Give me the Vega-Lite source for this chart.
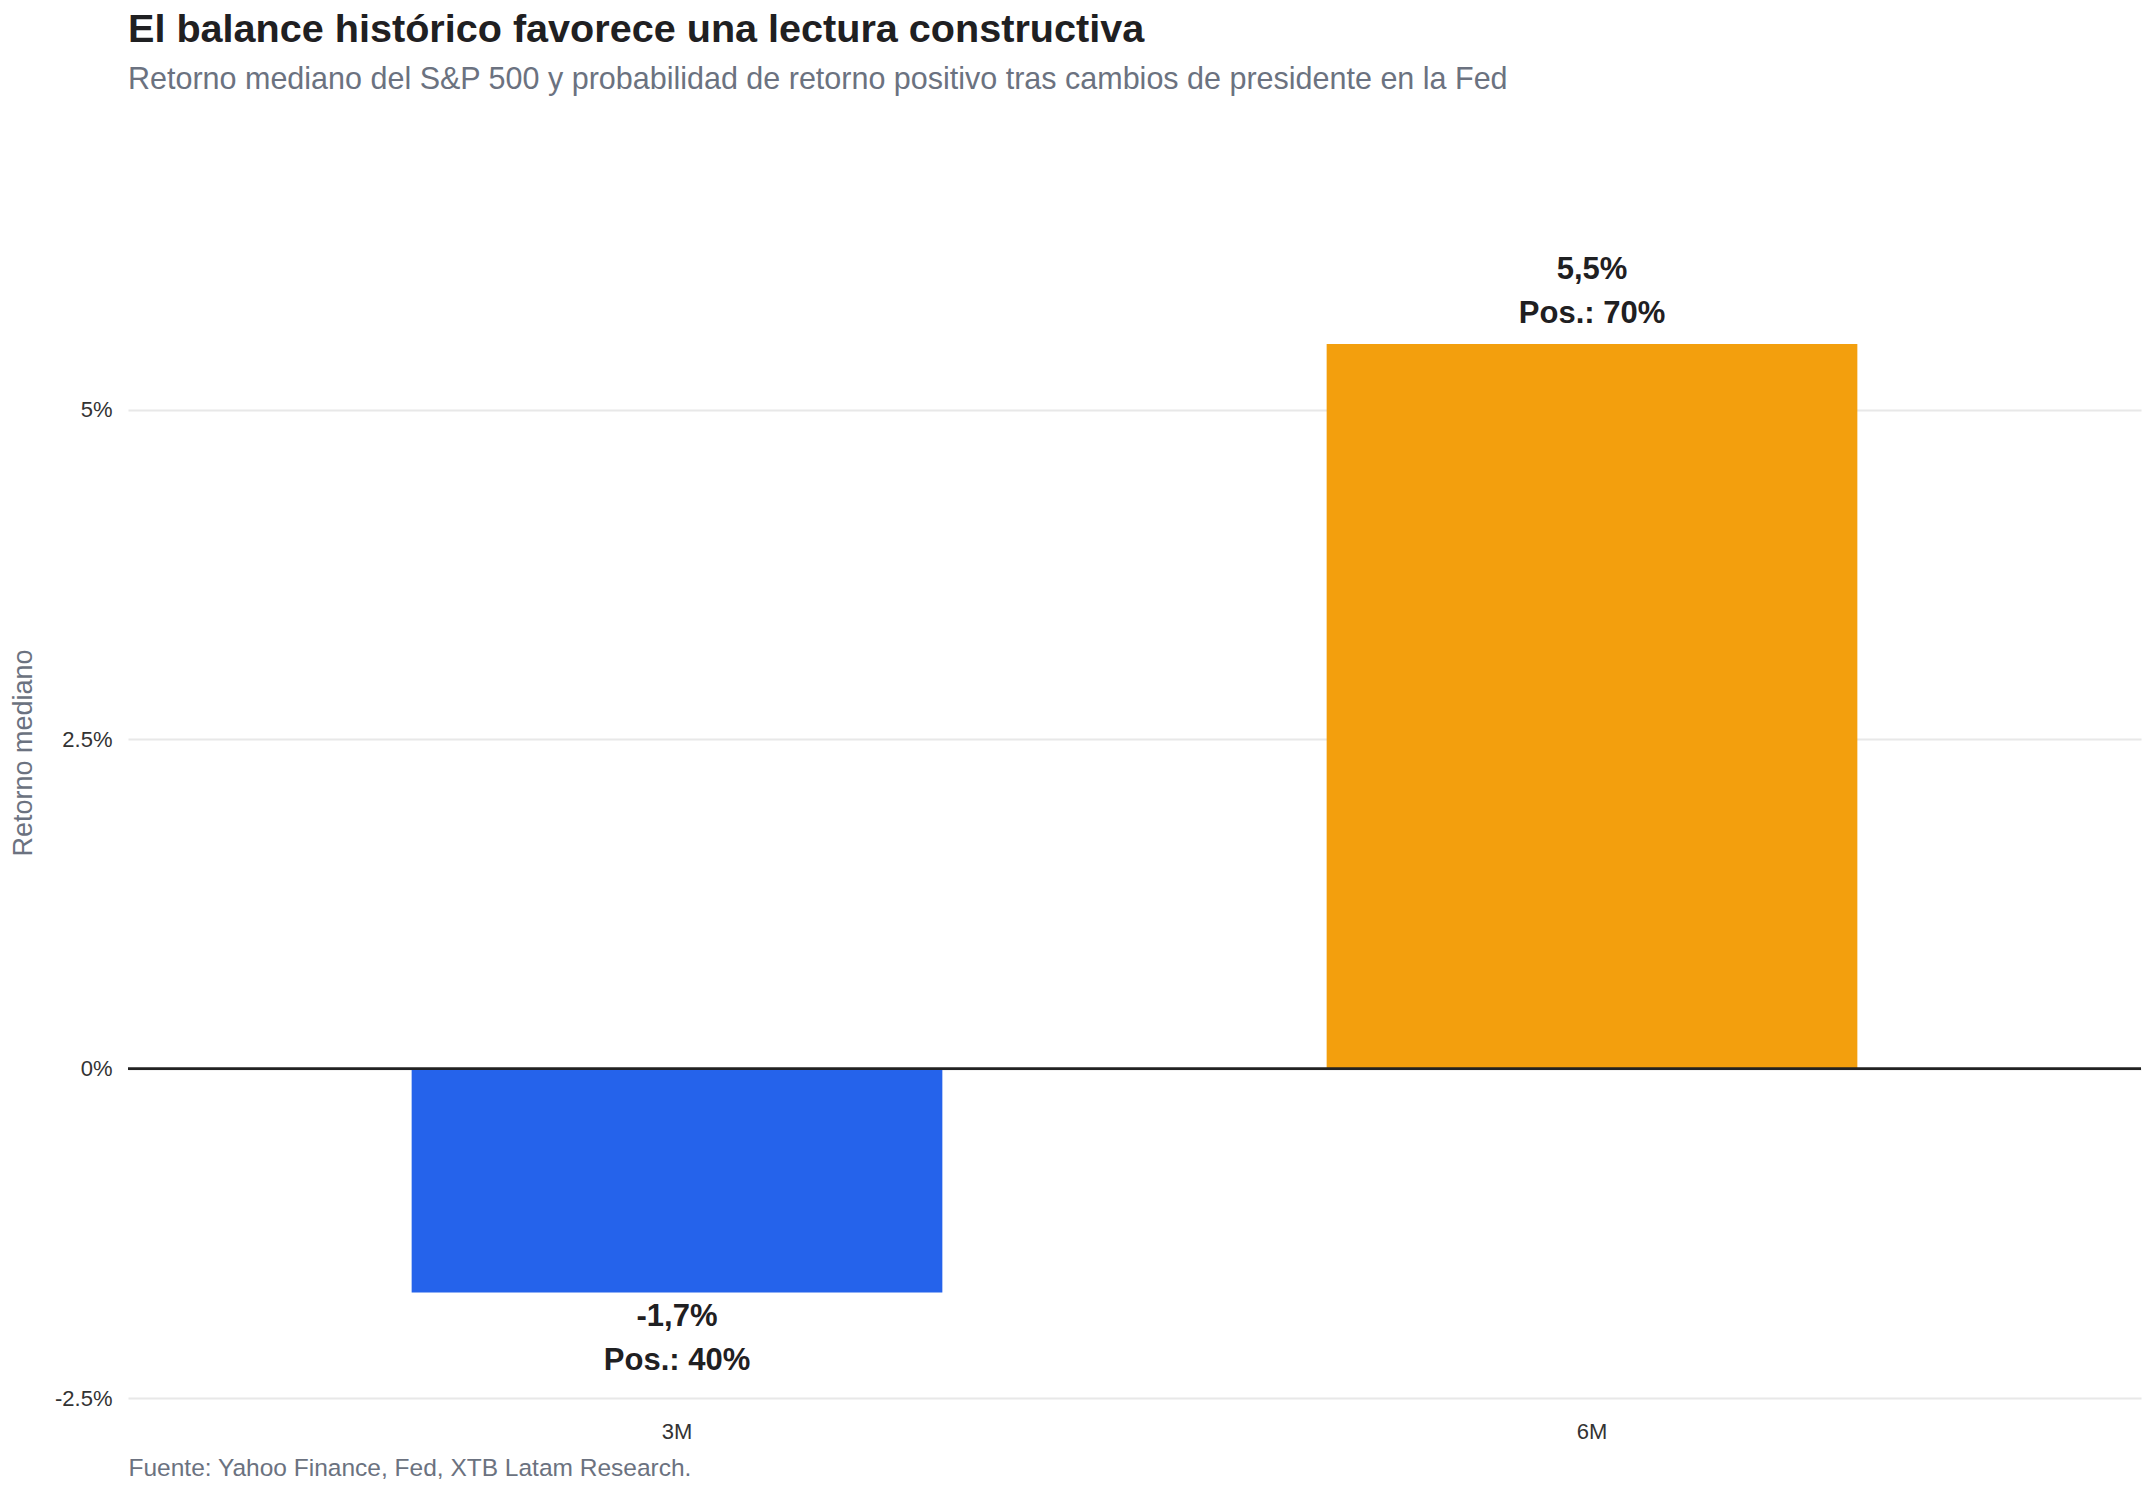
{
  "$schema": "https://vega.github.io/schema/vega-lite/v6.json",
  "width": 2013,
  "height": 1291,
  "autosize": {"type": "none"},
  "padding": {"left": 128, "top": 107, "right": 15, "bottom": 98},
  "background": "white",
  "title": {
    "text": "El balance histórico favorece una lectura constructiva",
    "subtitle": "Retorno mediano del S&P 500 y probabilidad de retorno positivo tras cambios de presidente en la Fed",
    "anchor": "start",
    "frame": "group",
    "font": "Liberation Sans",
    "fontSize": 39.6,
    "fontWeight": "bold",
    "color": "#1f2022",
    "subtitleFont": "Liberation Sans",
    "subtitleFontSize": 30.5,
    "subtitleColor": "#6b7280",
    "subtitlePadding": 14,
    "offset": 11
  },
  "data": {
    "values": [
      {"plazo": "3M", "retorno": -1.7, "prob_positivo": 40, "etiqueta": ["-1,7%", "Pos.: 40%"]},
      {"plazo": "6M", "retorno": 5.5, "prob_positivo": 70, "etiqueta": ["5,5%", "Pos.: 70%"]}
    ]
  },
  "encoding": {
    "x": {
      "field": "plazo",
      "type": "nominal",
      "sort": null,
      "scale": {"paddingInner": 0.42, "paddingOuter": 0.31},
      "axis": {
        "title": "Fuente: Yahoo Finance, Fed, XTB Latam Research.",
        "titleAnchor": "start",
        "titleAlign": "left",
        "titleFont": "Liberation Sans",
        "titleFontSize": 24.5,
        "titleFontWeight": "normal",
        "titleColor": "#6b7280",
        "titlePadding": 14,
        "labelFont": "Liberation Sans",
        "labelFontSize": 22,
        "labelColor": "#333333",
        "labelAngle": 0,
        "labelPadding": 23,
        "domain": false,
        "ticks": false,
        "grid": false
      }
    }
  },
  "layer": [
    {
      "mark": {"type": "bar"},
      "encoding": {
        "y": {
          "field": "retorno",
          "type": "quantitative",
          "scale": {"domain": [-2.5, 7.3], "nice": false, "zero": false},
          "axis": {
            "title": "Retorno mediano",
            "titleFont": "Liberation Sans",
            "titleFontSize": 27,
            "titleFontWeight": "normal",
            "titleColor": "#6b7280",
            "titlePadding": 17,
            "values": [-2.5, 0, 2.5, 5],
            "labelExpr": "datum.value + '%'",
            "labelFont": "Liberation Sans",
            "labelFontSize": 22,
            "labelColor": "#333333",
            "labelPadding": 16,
            "domain": false,
            "ticks": false,
            "grid": true,
            "gridColor": "#e8e8e8",
            "gridWidth": 2
          }
        },
        "color": {
          "field": "plazo",
          "type": "nominal",
          "scale": {"domain": ["3M", "6M"], "range": ["#2563eb", "#f39f0d"]},
          "legend": null
        }
      }
    },
    {
      "mark": {"type": "rule", "color": "#222222", "strokeWidth": 2.5},
      "encoding": {"y": {"datum": 0, "type": "quantitative"}, "x": {"value": 0}, "x2": {"value": 2013}}
    },
    {
      "transform": [{"filter": "datum.retorno >= 0"}],
      "mark": {
        "type": "text",
        "baseline": "bottom",
        "align": "center",
        "dy": -58,
        "font": "Liberation Sans",
        "fontSize": 31,
        "fontWeight": "bold",
        "lineHeight": 44,
        "color": "#1f2022"
      },
      "encoding": {
        "y": {"field": "retorno", "type": "quantitative"},
        "text": {"field": "etiqueta", "type": "nominal"}
      }
    },
    {
      "transform": [{"filter": "datum.retorno < 0"}],
      "mark": {
        "type": "text",
        "baseline": "top",
        "align": "center",
        "dy": 9,
        "font": "Liberation Sans",
        "fontSize": 31,
        "fontWeight": "bold",
        "lineHeight": 44,
        "color": "#1f2022"
      },
      "encoding": {
        "y": {"field": "retorno", "type": "quantitative"},
        "text": {"field": "etiqueta", "type": "nominal"}
      }
    }
  ],
  "config": {"view": {"stroke": null}}
}
